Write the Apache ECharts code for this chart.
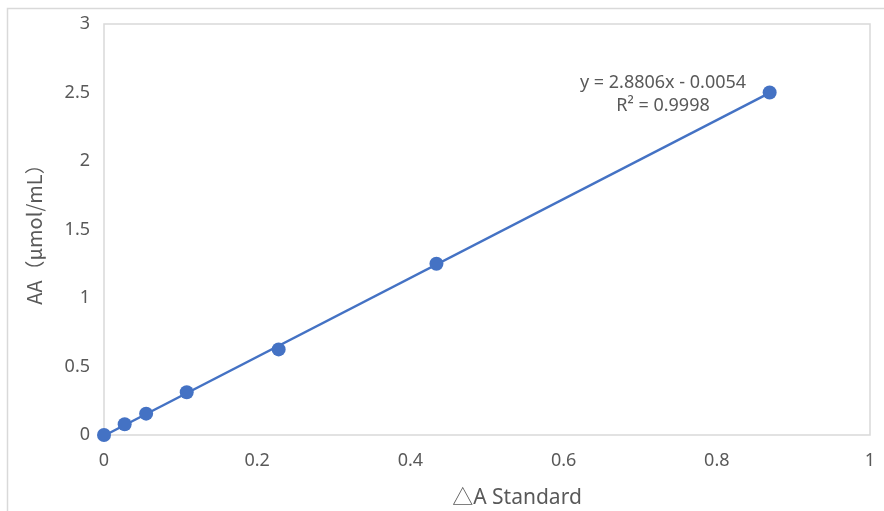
<!DOCTYPE html>
<html>
<head>
<meta charset="utf-8">
<script src="https://cdn.jsdelivr.net/npm/echarts@6/dist/echarts.min.js"></script>
<style>html,body{margin:0;padding:0;background:#fff;overflow:hidden;}#c{width:884px;height:511px;}</style>
</head>
<body>
<div id="c"></div>
<script>
var xValues = [0, 0.027, 0.055, 0.108, 0.228, 0.434, 0.869];
var yValues = [0, 0.078, 0.156, 0.3125, 0.625, 1.25, 2.5];
var trendSlope = 2.8806;
var trendIntercept = -0.0054;
var equationLines = ['y = 2.8806x - 0.0054', 'R² = 0.9998'];
var xAxisName = '△A Standard';
var yAxisName = 'AA（μmol/mL）';

var points = xValues.map(function (x, i) { return [x, yValues[i]]; });
var xMin = Math.min.apply(null, xValues), xMax = Math.max.apply(null, xValues);
var trend = [[xMin, trendSlope * xMin + trendIntercept], [xMax, trendSlope * xMax + trendIntercept]];

var FONT = '"Noto Sans", "Noto Sans CJK SC", sans-serif';
var CJK = '"Noto Sans CJK SC", "Noto Sans", sans-serif';
var TXT = '#595959';
var BLUE = '#4472C4';

var chart = echarts.init(document.getElementById('c'), null, {renderer: 'canvas', width: 884, height: 511});
chart.setOption({
  animation: false,
  backgroundColor: '#fff',
  grid: {left: 104, top: 24, width: 766, height: 411, containLabel: false, outerBoundsMode: 'none',
         show: true, borderColor: '#d9d9d9', borderWidth: 1.5, backgroundColor: 'transparent'},
  xAxis: {
    type: 'value', min: 0, max: 1, interval: 0.2,
    axisLine: {show: false}, axisTick: {show: false}, splitLine: {show: false},
    axisLabel: {color: TXT, fontSize: 18, fontFamily: FONT, margin: 17},
    name: xAxisName, nameLocation: 'middle', nameGap: 53,
    nameTextStyle: {color: TXT, fontSize: 21, fontFamily: FONT, padding: [0, 0, 0, 60]}
  },
  yAxis: {
    type: 'value', min: 0, max: 3, interval: 0.5,
    axisLine: {show: false}, axisTick: {show: false}, splitLine: {show: false},
    axisLabel: {color: TXT, fontSize: 18, fontFamily: FONT, margin: 14},
    name: yAxisName, nameLocation: 'middle', nameGap: 60, nameRotate: 90,
    nameTextStyle: {color: TXT, fontSize: 20, fontFamily: CJK}
  },
  series: [
    {
      type: 'line', data: trend, showSymbol: false, symbol: 'none',
      lineStyle: {color: BLUE, width: 2.5}, clip: false, z: 2, silent: true
    },
    {
      type: 'scatter', data: points, symbol: 'circle', symbolSize: 14,
      itemStyle: {color: BLUE, opacity: 1}, z: 3
    }
  ],
  graphic: [
    {type: 'rect', shape: {x: 7.5, y: 8.5, width: 1000, height: 1000}, style: {fill: null, stroke: '#d9d9d9', lineWidth: 1.5}, silent: true, z: -1},
    {type: 'text', x: 663, y: 83, style: {text: equationLines[0], fill: TXT, font: '18px ' + FONT, align: 'center', verticalAlign: 'middle'}},
    {type: 'text', x: 663, y: 106, style: {text: equationLines[1], fill: TXT, font: '18px ' + FONT, align: 'center', verticalAlign: 'middle'}}
  ]
});
</script>
</body>
</html>
